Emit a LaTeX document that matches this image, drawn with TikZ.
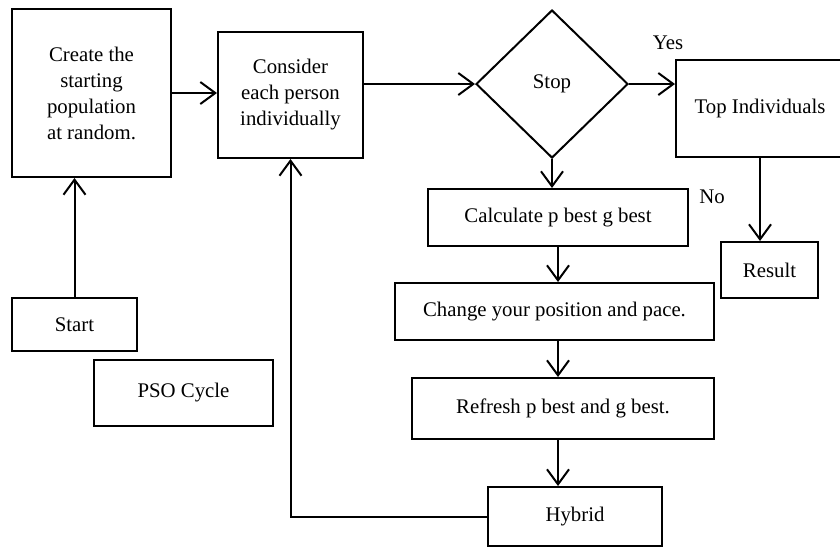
\documentclass[tikz,border=0pt]{standalone}
\usepackage{fontspec}
\setmainfont{Liberation Serif}
\usetikzlibrary{arrows.meta,shapes.geometric}
\tikzset{
	box/.style={draw, line width=1pt, align=center, inner sep=2pt},
	decide/.style={draw, diamond, line width=1pt, inner sep=0pt},
	arr/.style={line width=1pt, -{Straight Barb[length=7.5pt,width=11pt,line width=1pt]}},
	lbl/.style={inner sep=0pt}
}

\begin{document}
\begin{tikzpicture}[x=0.5pt,y=-0.5pt,font=\fontsize{10.4pt}{13pt}\selectfont]
		\useasboundingbox (0,0) rectangle (840,548);
		\clip (0,0) rectangle (840,548);

		% Left column
		\node[box, minimum width=79.5pt, minimum height=84pt] (create) at (91.5,93) {Create the\\starting\\population\\at random.};
		\node[box, minimum width=62.5pt, minimum height=26.5pt] (start) at (74.5,324.5) {Start};
		\node[box, minimum width=89.5pt, minimum height=33pt] (pso) at (183.5,393) {PSO Cycle};

		% Main loop
		\node[box, minimum width=72.5pt, minimum height=63pt] (consider) at (290.5,95) {Consider\\each person\\individually};
		\node[decide, minimum width=76pt, minimum height=74pt] (stop) at (552,84) {Stop};
		\node[box, minimum width=130pt, minimum height=28.5pt] (calc) at (558,217.5) {Calculate p best g best};
		\node[box, minimum width=159.5pt, minimum height=28.5pt] (change) at (554.5,311.5) {Change your position and pace.};
		\node[box, minimum width=151pt, minimum height=30.5pt] (refresh) at (563,408.5) {Refresh p best and g best.};
		\node[box, minimum width=87pt, minimum height=29.5pt] (hybrid) at (575,516.5) {Hybrid};

		% Exit branch
		\node[box, minimum width=84pt, minimum height=48.5pt] (top) at (760,108.5) {Top Individuals};
		\node[box, minimum width=48.5pt, minimum height=28pt] (result) at (769.5,270) {Result};
		\node[lbl] (yes) at (668,43) {Yes};
		\node[lbl] (no) at (712,197) {No};

		% Connectors
		\coordinate (spine) at (558,0);
		\draw[arr] (start.north) -- (start.north |- create.south);
		\draw[arr] (create.east) -- (create.east -| consider.west);
		\draw[arr] (consider.east |- stop.west) -- (stop.west);
		\draw[arr] (stop.east) -- (stop.east -| top.west);
		\draw[arr] (top.south) -- (top.south |- result.north);
		\draw[arr] (stop.south) -- (stop.south |- calc.north);
		\draw[arr] (spine |- calc.south) -- (spine |- change.north);
		\draw[arr] (spine |- change.south) -- (spine |- refresh.north);
		\draw[arr] (spine |- refresh.south) -- (spine |- hybrid.north);
		\draw[arr] (hybrid.west) -| (consider.south);
	\end{tikzpicture}
\end{document}
